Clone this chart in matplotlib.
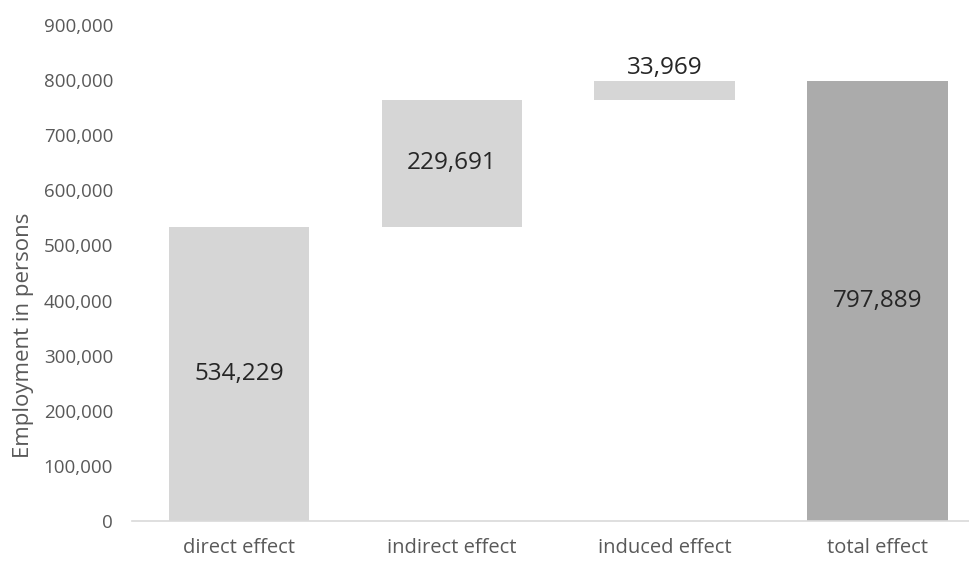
import matplotlib.pyplot as plt
import numpy as np
from matplotlib.ticker import FuncFormatter

# --- Data ---------------------------------------------------------------------

categories = ["direct effect", "indirect effect", "induced effect", "total effect"]
effects = [534229, 229691, 33969]
total = 797889

# waterfall: each step starts where the previous one ended
steps = np.array(effects, dtype=float)
bottoms = np.concatenate([[0], np.cumsum(steps)[:-1]])
heights = np.concatenate([steps, [total]])
bottoms = np.concatenate([bottoms, [0]])
colors = ["#d6d6d6", "#d6d6d6", "#d6d6d6", "#ababab"]

# --- Plot ---------------------------------------------------------------------

plt.rcParams["font.family"] = ["Open Sans", "DejaVu Sans"]

fig = plt.figure(figsize=(9.69, 5.61), dpi=100)
ax = fig.add_axes([0.1367, 0.0713, 1.0 - 0.1367, 0.8841])

x = np.arange(len(categories))
ax.bar(x, heights, bottom=bottoms, width=0.66, color=colors, zorder=2)

for i, (b, h) in enumerate(zip(bottoms, heights)):
    label = f"{int(h):,}"
    if i == 2:
        # thin bar: put the label above it
        ax.annotate(label, (x[i], b + h), xytext=(0, 1), textcoords="offset points",
                    ha="center", va="bottom", fontsize=17.5, color="#262626")
    else:
        ax.text(x[i], b + h / 2, label, ha="center", va="center",
                fontsize=17.5, color="#262626")

ax.set_xlim(-0.5, 3.43)
ax.set_ylim(0, 900000)
ax.set_yticks(np.arange(0, 900001, 100000))
ax.yaxis.set_major_formatter(FuncFormatter(lambda v, _: f"{int(v):,}"))
ax.set_xticks(x)
ax.set_xticklabels(categories)

ax.tick_params(axis="y", length=0, pad=14, labelsize=13.5, labelcolor="#595959")
ax.tick_params(axis="x", length=0, pad=12, labelsize=14.5, labelcolor="#595959")
for side in ["top", "right", "left"]:
    ax.spines[side].set_visible(False)
ax.spines["bottom"].set_color("#d9d9d9")
ax.spines["bottom"].set_linewidth(1.2)

ax.set_ylabel("Employment in persons", fontsize=16, color="#595959")
ax.yaxis.set_label_coords(-0.118, 0.375)

fig.savefig("out.png", dpi=100)
plt.close(fig)
